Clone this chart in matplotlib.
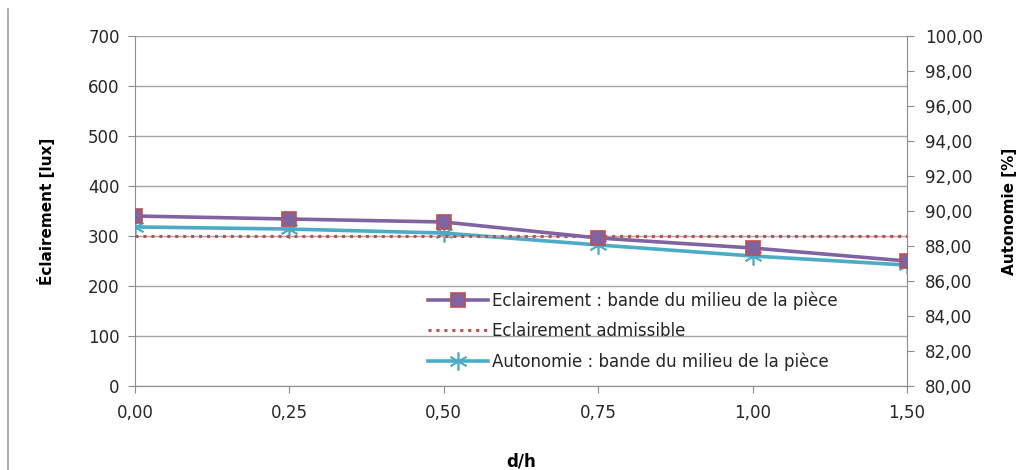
import matplotlib.pyplot as plt
from matplotlib.lines import Line2D

# d/h categories and measured values
dh_labels = ["0,00", "0,25", "0,50", "0,75", "1,00", "1,50"]
eclairement = [340, 334, 328, 296, 276, 250]          # lux
admissible = [300, 300, 300, 300, 300, 300]           # lux
autonomie = [89.09, 88.97, 88.74, 88.06, 87.43, 86.91]  # %

purple = "#8064A2"
red = "#C0504D"
cyan = "#4BACC6"
grey = "#8c8c8c"

plt.rcParams["font.family"] = "DejaVu Sans"

fig = plt.figure(figsize=(10.29, 4.70), dpi=100)
ax = fig.add_axes([0.1312, 0.1787, 0.8814 - 0.1312, 0.9234 - 0.1787])
ax2 = ax.twinx()

x = list(range(len(dh_labels)))

l1, = ax.plot(x, eclairement, color=purple, lw=2.6, marker="s", ms=10,
              mfc=purple, mec=red, mew=1.2, zorder=4,
              label="Eclairement : bande du milieu de la pièce")
l2, = ax.plot(x, admissible, color=red, lw=2.2, ls=(0, (1, 1.6)), zorder=3,
              label="Eclairement admissible")
l3, = ax2.plot(x, autonomie, color=cyan, lw=2.6, marker=(6, 2, 0), ms=13,
               mec=cyan, mew=1.2, zorder=4,
               label="Autonomie : bande du milieu de la pièce")

ax.set_xlim(0, len(x) - 1)
ax.set_ylim(0, 700)
ax.set_yticks(range(0, 701, 100))
ax2.set_ylim(80, 100)
ax2.set_yticks(range(80, 101, 2))
ax2.set_yticklabels(["%d,00" % v for v in range(80, 101, 2)])
ax.set_xticks(x)
ax.set_xticklabels(dh_labels)

ax.yaxis.grid(True, color="#a6a6a6", lw=1)
ax.set_axisbelow(True)
ax.set_zorder(ax2.get_zorder() + 1)
ax.patch.set_visible(False)

for a in (ax, ax2):
    for s in a.spines.values():
        s.set_color(grey)
    a.spines["top"].set_visible(False)
    a.tick_params(colors=grey, labelcolor="#262626", labelsize=12, length=5)
ax.spines["right"].set_visible(False)
ax2.spines["left"].set_visible(False)
ax2.spines["bottom"].set_visible(False)
ax.tick_params(axis="x", pad=8)
ax.tick_params(axis="y", pad=6)
ax2.tick_params(axis="y", pad=8)

ax.set_ylabel("Éclairement [lux]", fontsize=11, fontweight="bold",
              labelpad=24)
ax.set_xlabel("d/h", fontsize=12, fontweight="bold", labelpad=22)
ax2.set_ylabel("Autonomie [%]", fontsize=11, fontweight="bold", labelpad=14)

leg = ax.legend(handles=[l1, l2, l3], loc="lower left",
                bbox_to_anchor=(0.36, 0.0), frameon=False, fontsize=12,
                handlelength=3.6, labelspacing=0.75, handletextpad=0.25)
for t in leg.get_texts():
    t.set_color("#262626")

# frame line along the left edge
fig.add_artist(Line2D([0.008, 0.008], [0.0, 0.98], color="#a0a0a0", lw=1.2,
                      transform=fig.transFigure))

fig.savefig("out.png", dpi=100)
